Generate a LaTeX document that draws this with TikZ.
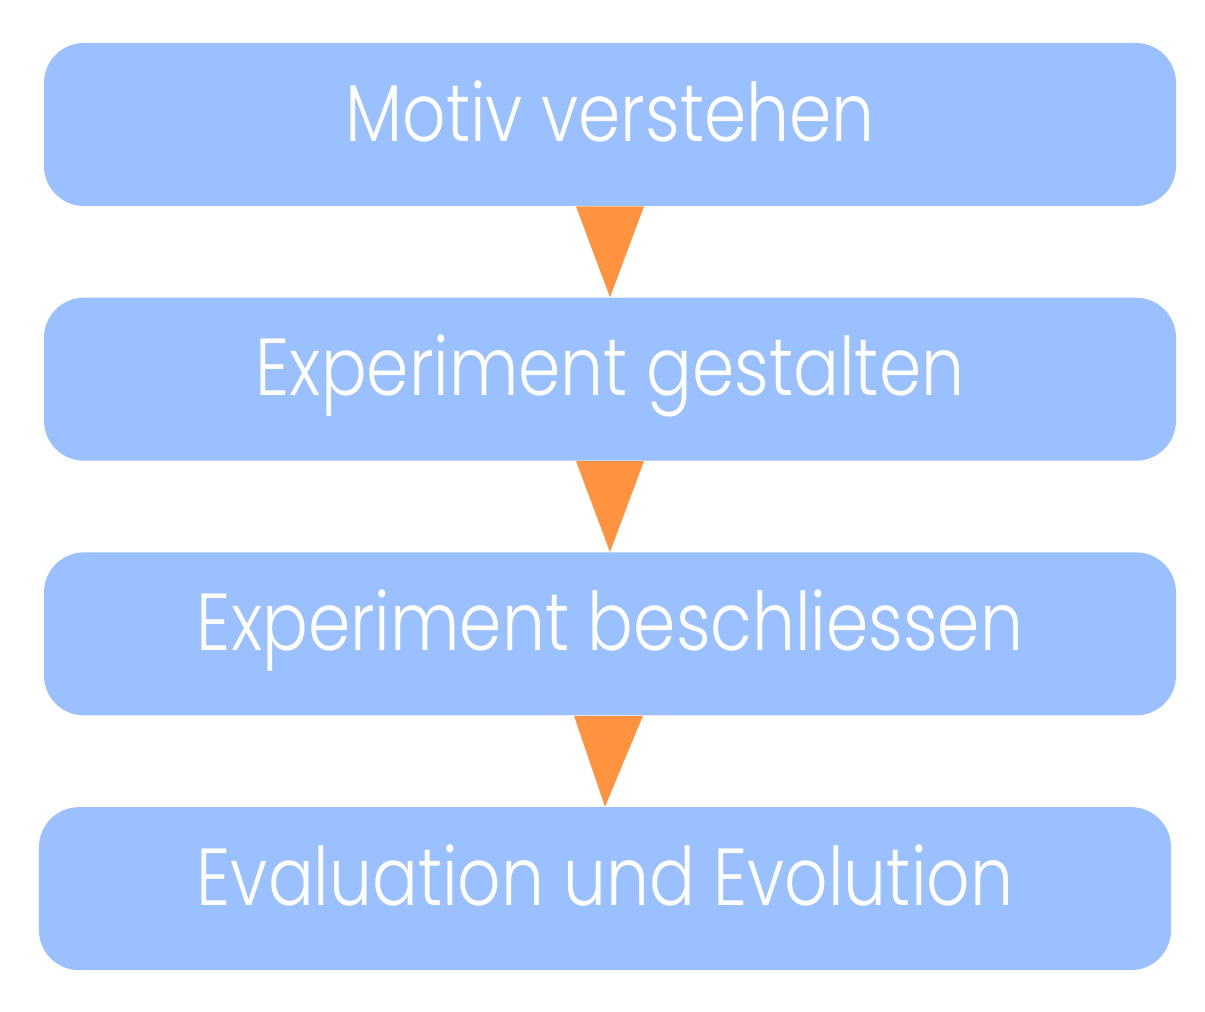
\documentclass[tikz,border=0pt]{standalone}
\usepackage{fontspec}
\setmainfont{Poppins Light}[FakeStretch=0.84]
\usepackage{xcolor}
\usetikzlibrary{positioning}
\definecolor{stepblue}{HTML}{9BC0FF}
\definecolor{steporange}{HTML}{FF9340}

\begin{document}
\begin{tikzpicture}[node distance=1.82cm,
    phase/.style={fill=stepblue, rounded corners=0.8cm, minimum width=22.64cm,
      minimum height=3.26cm, text=white, font=\fontsize{46}{56}\selectfont,
      text depth=0.55cm},
    wedge/.style={fill=steporange}]
  \useasboundingbox (0,0) rectangle (24.1,20.22);
  \node[phase] (motiv) at (12.2,17.73) {Motiv verstehen};
  \node[phase, below=of motiv] (gestalten) {Experiment gestalten};
  \node[phase, below=of gestalten] (beschl) {Experiment beschliessen};
  \node[phase, below=of beschl, xshift=-0.1cm] (eval) {Evaluation und Evolution};
  \fill[wedge] ([xshift=-0.68cm]motiv.south) -- ([xshift=0.68cm]motiv.south) -- (gestalten.north) -- cycle;
  \fill[wedge] ([xshift=-0.68cm]gestalten.south) -- ([xshift=0.68cm]gestalten.south) -- (beschl.north) -- cycle;
  \fill[wedge] ([xshift=-0.72cm]beschl.south) -- ([xshift=0.66cm]beschl.south) -- (eval.north) -- cycle;
\end{tikzpicture}
\end{document}
